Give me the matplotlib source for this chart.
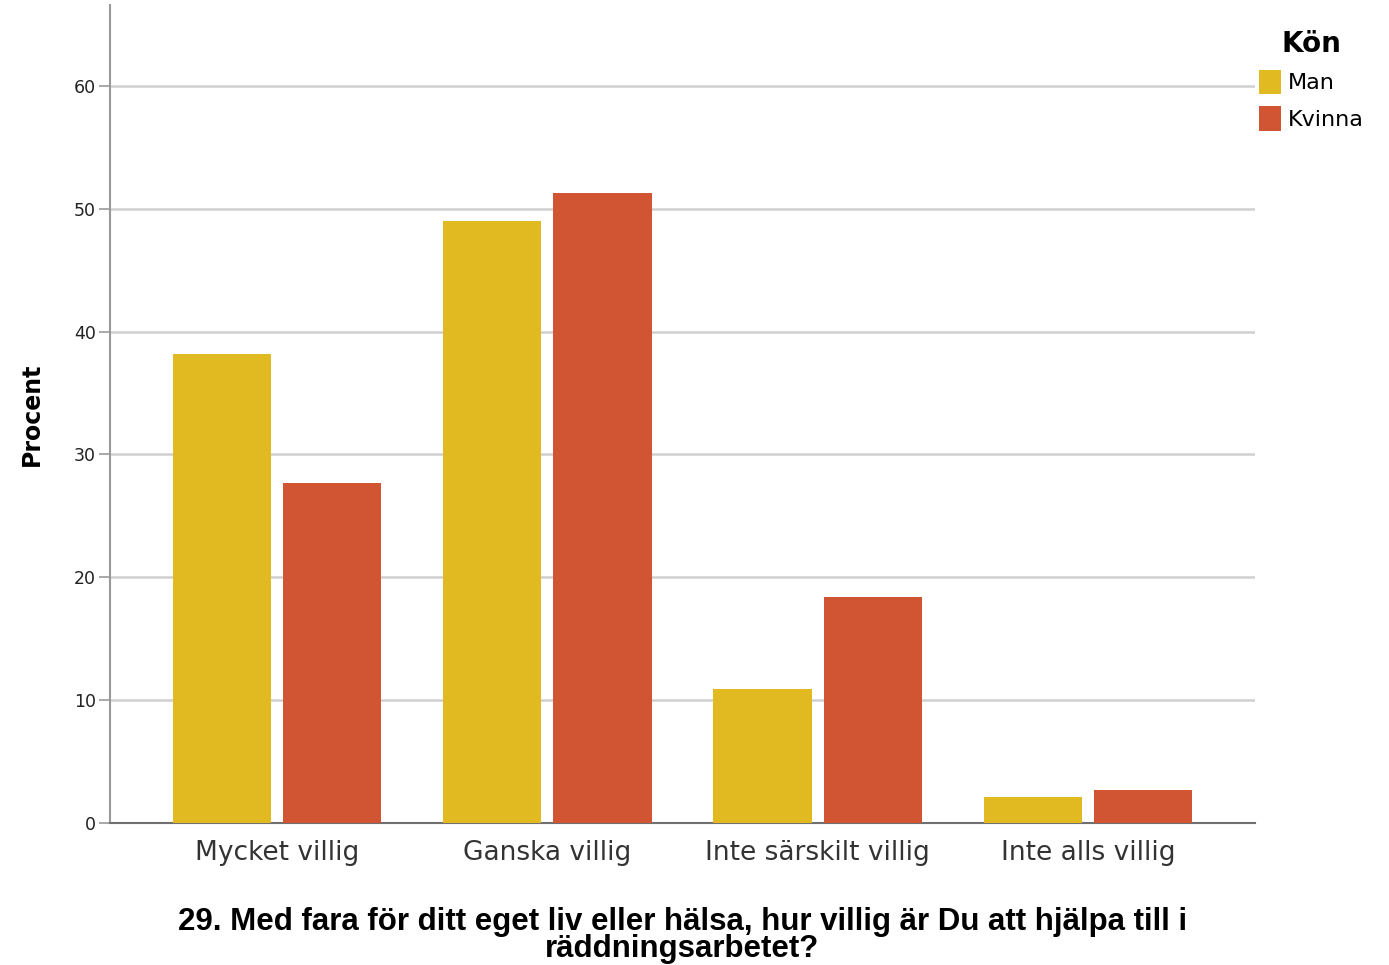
import matplotlib
matplotlib.use("Agg")
from matplotlib import pyplot as plt
import numpy as np

categories = ["Mycket villig", "Ganska villig", "Inte särskilt villig", "Inte alls villig"]
man = [38.2, 49.0, 10.9, 2.1]
kvinna = [27.7, 51.3, 18.4, 2.7]
yticks = [0, 10, 20, 30, 40, 50, 60]

col_man = "#E0BA20"
col_kvinna = "#D15433"

fig = plt.figure(figsize=(13.89, 9.65), dpi=100)
ax = fig.add_axes([0.0792, 0.1472, 0.8243, 0.8478])

x = np.arange(len(categories))
w = 0.363
b1 = ax.bar(x - 0.204, man, w, color=col_man, label="Man", zorder=3)
b2 = ax.bar(x + 0.204, kvinna, w, color=col_kvinna, label="Kvinna", zorder=3)

ax.set_xlim(-0.618, 3.618)
ax.set_ylim(0, 66.6)
ax.set_yticks(yticks)
ax.set_yticklabels([str(t) for t in yticks], fontsize=12.5, color="#222222")
ax.set_xticks(x)
ax.set_xticklabels(categories, fontsize=19, color="#333333")
ax.tick_params(axis="x", length=0, pad=12)
ax.tick_params(axis="y", length=8, width=1.2, color="#999999", pad=2, direction="out")
ax.yaxis.grid(True, color="#D0D0D0", linewidth=1.8, zorder=0)
ax.set_axisbelow(True)

for s in ["top", "right"]:
    ax.spines[s].set_visible(False)
ax.spines["left"].set_color("#999999")
ax.spines["bottom"].set_color("#707070")
ax.spines["left"].set_linewidth(1.5)
ax.spines["bottom"].set_linewidth(1.5)

ax.set_ylabel("Procent", fontsize=17, fontweight="bold", labelpad=22)
ax.set_xlabel("29. Med fara för ditt eget liv eller hälsa, hur villig är Du att hjälpa till i\nräddningsarbetet?",
              fontsize=22.5, fontweight="bold", family=["Liberation Sans Narrow", "Liberation Sans", "DejaVu Sans"],
              linespacing=0.85, labelpad=30)

leg = fig.legend(handles=[b1, b2], labels=["Man", "Kvinna"], title="Kön",
                 loc="upper left", bbox_to_anchor=(0.892, 0.99), frameon=False,
                 fontsize=16, title_fontproperties={"weight": "bold", "size": 20},
                 handlelength=1.0, handleheight=1.3, handletextpad=0.3, labelspacing=0.55)

fig.savefig("out.png", dpi=100)
